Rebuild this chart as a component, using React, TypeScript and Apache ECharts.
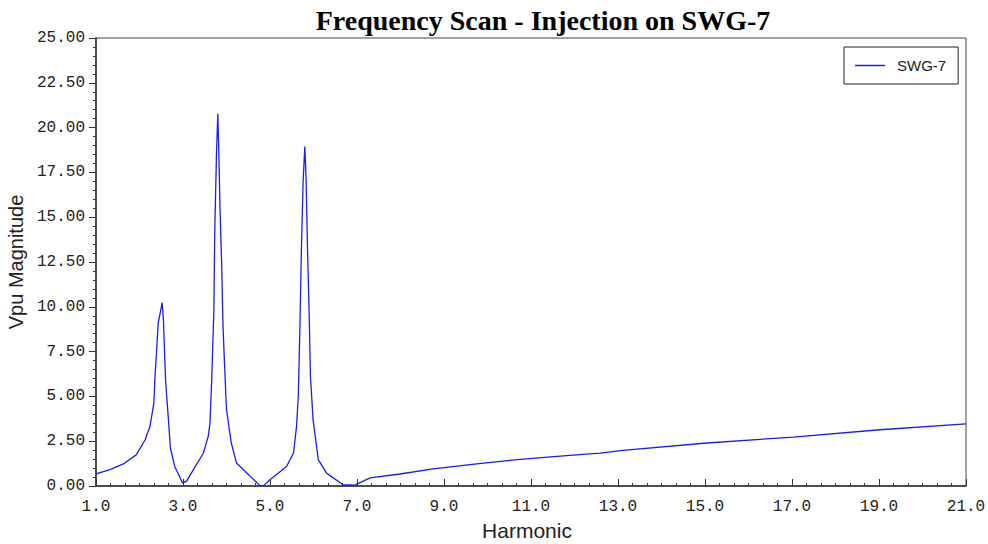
import React, { useEffect, useRef } from "react";
import * as echarts from "echarts";

const title = "Frequency Scan - Injection on SWG-7";
const seriesName = "SWG-7";
const xAxisName = "Harmonic";
const yAxisName = "Vpu Magnitude";

const harmonic = [
  1.0, 1.32, 1.63, 1.93, 2.13, 2.24, 2.33, 2.36, 2.39, 2.43, 2.49, 2.52, 2.55, 2.6, 2.66, 2.71, 2.81, 2.99,
  3.08, 3.24, 3.47, 3.58, 3.62, 3.66, 3.71, 3.73, 3.77, 3.8, 3.82, 3.85, 3.89, 3.92, 3.96, 4.0, 4.11, 4.23,
  4.77, 4.85, 5.0, 5.38, 5.54, 5.61, 5.65, 5.69, 5.72, 5.76, 5.8, 5.83, 5.86, 5.9, 5.93, 5.99, 6.11, 6.3,
  6.68, 6.95, 7.3, 7.99, 8.75, 9.75, 10.67, 11.82, 12.59, 13.05, 15.04, 17.03, 19.02, 21.0,
];
const vpu = [
  0.67, 0.91, 1.23, 1.75, 2.58, 3.32, 4.63, 6.3, 7.4, 9.1, 9.83, 10.24, 9.28, 5.83, 3.88, 2.12, 1.09, 0.17,
  0.26, 0.91, 1.84, 2.77, 3.51, 5.93, 9.83, 14.2, 18.57, 20.77, 19.04, 15.6, 12.25, 8.9, 6.49, 4.26, 2.4, 1.28,
  0.02, 0.02, 0.35, 1.09, 1.84, 3.32, 5.0, 9.09, 13.0, 16.9, 18.94, 17.08, 13.46, 9.65, 6.11, 3.7, 1.47, 0.72,
  0.07, 0.05, 0.45, 0.67, 0.95, 1.23, 1.47, 1.69, 1.84, 1.97, 2.4, 2.73, 3.14, 3.47,
];

export default function App() {
  const ref = useRef<HTMLDivElement>(null);
  useEffect(() => {
    if (!ref.current) return;
    const chart = echarts.init(ref.current, undefined, { renderer: "svg" });
    const axisColor = "#333";
    chart.setOption({
      animation: false,
      backgroundColor: "#fff",
      title: {
        text: title,
        left: 538,
        textAlign: "center",
        top: 1,
        textStyle: { fontFamily: "Liberation Serif", fontWeight: "bold", fontSize: 28, color: "#000" },
      },
      legend: {
        left: 844,
        top: 47,
        orient: "vertical",
        padding: [11, 12, 11, 11],
        icon: "rect",
        itemWidth: 30,
        itemHeight: 1.5,
        borderColor: "#222",
        borderWidth: 1,
        textStyle: { fontFamily: "Liberation Sans", fontSize: 15, color: "#222", padding: [0, 0, 0, 7], lineHeight: 15 },
        data: [seriesName],
      },
      grid: {
        left: 96,
        right: 22,
        top: 38,
        bottom: 58,
        show: true,
        borderColor: "#444",
        borderWidth: 1,
        containLabel: false,
        outerBoundsMode: "none",
      },
      xAxis: {
        type: "value",
        min: 1,
        max: 21,
        interval: 2,
        name: xAxisName,
        nameLocation: "middle",
        nameGap: 33,
        nameTextStyle: { fontFamily: "Liberation Sans", fontSize: 21, color: "#222", padding: [0, 8, 0, 0] },
        axisLine: { show: true, lineStyle: { color: axisColor, width: 1.5 } },
        axisTick: { show: true, inside: true, length: 7, lineStyle: { color: axisColor } },
        minorTick: { show: true, splitNumber: 6, length: 3, lineStyle: { color: axisColor } },
        splitLine: { show: false },
        axisLabel: {
          margin: 13,
          fontFamily: "Liberation Mono",
          fontSize: 16,
          color: "#222",
          formatter: (v: number) => v.toFixed(1),
        },
      },
      yAxis: {
        type: "value",
        min: 0,
        max: 25,
        interval: 2.5,
        name: yAxisName,
        nameLocation: "middle",
        nameGap: 68,
        nameTextStyle: { fontFamily: "Liberation Sans", fontSize: 20, color: "#222" },
        axisLine: { show: true, lineStyle: { color: axisColor, width: 1.5 } },
        axisTick: { show: true, inside: false, length: 7, lineStyle: { color: axisColor } },
        minorTick: { show: true, splitNumber: 5, length: 3, lineStyle: { color: axisColor } },
        splitLine: { show: false },
        axisLabel: {
          margin: 11,
          fontFamily: "Liberation Mono",
          fontSize: 16,
          color: "#222",
          formatter: (v: number) => v.toFixed(2),
        },
      },
      series: [
        {
          name: seriesName,
          type: "line",
          symbol: "none",
          showSymbol: false,
          data: harmonic.map((x, i) => [x, vpu[i]]),
          lineStyle: { color: "#1a1aff", width: 1.3 },
          itemStyle: { color: "#1a1aff" },
        },
      ],
    });
    return () => chart.dispose();
  }, []);
  return <div ref={ref} style={{ width: 988, height: 544, position: "absolute", left: 0, top: 0 }} />;
}
